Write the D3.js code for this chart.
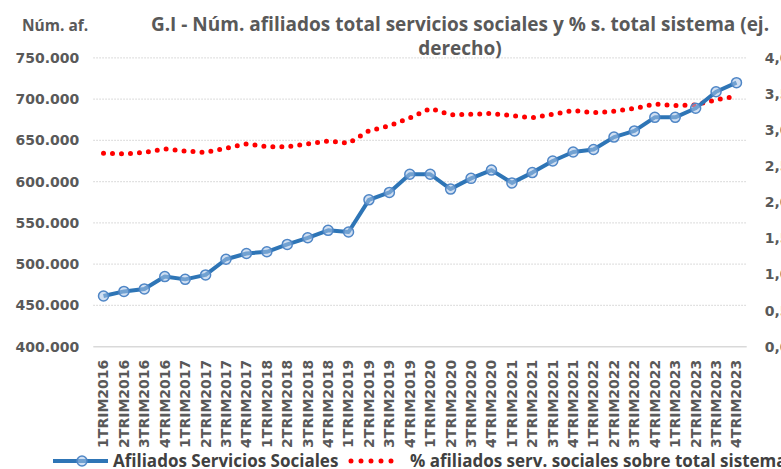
<!DOCTYPE html>
<html><head><meta charset="utf-8">
<script src="https://cdn.jsdelivr.net/npm/d3@7"></script>
<style>body{margin:0;background:#fff}svg{display:block}</style>
</head><body>
<script>
const categories = ["1TRIM2016","2TRIM2016","3TRIM2016","4TRIM2016","1TRIM2017","2TRIM2017","3TRIM2017","4TRIM2017","1TRIM2018","2TRIM2018","3TRIM2018","4TRIM2018","1TRIM2019","2TRIM2019","3TRIM2019","4TRIM2019","1TRIM2020","2TRIM2020","3TRIM2020","4TRIM2020","1TRIM2021","2TRIM2021","3TRIM2021","4TRIM2021","1TRIM2022","2TRIM2022","3TRIM2022","4TRIM2022","1TRIM2023","2TRIM2023","3TRIM2023","4TRIM2023"];
const afiliados = [461400,467000,470000,485000,481600,487000,506000,513000,515000,524000,532000,541000,539000,578000,587000,609000,609000,591000,604000,614000,598500,611000,625000,636000,639000,654000,661500,678000,678000,689000,709000,720000];
const porcentaje = [2.68,2.67,2.69,2.74,2.71,2.69,2.75,2.81,2.77,2.77,2.81,2.85,2.82,2.99,3.06,3.17,3.30,3.21,3.22,3.23,3.20,3.17,3.22,3.27,3.24,3.26,3.30,3.36,3.34,3.35,3.42,3.47];
const leftTicks = [400000,450000,500000,550000,600000,650000,700000,750000];
const rightTicks = [0,0.5,1,1.5,2,2.5,3,3.5,4];
const seriesNames = ["Afiliados Servicios Sociales","% afiliados serv. sociales sobre total sistema"];
const titleLines = ["G.I - Núm. afiliados total servicios sociales y % s. total sistema (ej.","derecho)"];
const leftAxisTitle = "Núm. af.";

const W=781,H=469;
const L=93.3,R=746.7,T=57.9,B=346.7;
const svg=d3.select("body").append("svg").attr("width",W).attr("height",H);
const x=d3.scaleBand().domain(categories).range([L,R]);
const yL=d3.scaleLinear().domain([400000,750000]).range([B,T]);
const yR=d3.scaleLinear().domain([0,4]).range([B,T]);
const cx=d=>x(d)+x.bandwidth()/2;
const axisFont="'DejaVu Sans', Verdana, sans-serif";
const narrow="'Liberation Sans Narrow','Open Sans',sans-serif";
const gray="#595959";

// gridlines
svg.append("g").selectAll("line").data(leftTicks.filter(v=>v>400000)).join("line")
 .attr("x1",L).attr("x2",R).attr("y1",d=>yL(d)).attr("y2",d=>yL(d))
 .attr("stroke","#d9d9d9").attr("stroke-width",1.3).attr("stroke-dasharray","1.5 1.5");
// baseline
svg.append("line").attr("x1",L).attr("x2",R).attr("y1",B).attr("y2",B).attr("stroke","#d9d9d9").attr("stroke-width",1.5);

// left axis
const fmtL=d3.formatLocale({decimal:",",thousands:".",grouping:[3],currency:["","€"]}).format(",.0f");
const gL=svg.append("g").attr("transform",`translate(${L-14},0)`)
 .call(d3.axisLeft(yL).tickValues(leftTicks).tickFormat(v=>fmtL(v)).tickSize(0).tickPadding(0));
gL.select(".domain").remove();
gL.selectAll("text").attr("font-family",axisFont).attr("font-weight","bold").attr("font-size","14px").attr("fill",gray);

// right axis
const fmtR=v=>v.toFixed(1).replace(".",",");
const gR=svg.append("g").attr("transform",`translate(${R+18},0)`)
 .call(d3.axisRight(yR).tickValues(rightTicks).tickFormat(fmtR).tickSize(0).tickPadding(0));
gR.select(".domain").remove();
gR.selectAll("text").attr("font-family",axisFont).attr("font-weight","bold").attr("font-size","14px").attr("fill",gray);

// x axis
const gX=svg.append("g").attr("transform",`translate(0,${B})`)
 .call(d3.axisBottom(x).tickSize(0).tickPadding(0));
gX.select(".domain").remove();
gX.selectAll("text").attr("font-family",axisFont).attr("font-weight","bold").attr("font-size","14px").attr("fill",gray)
 .attr("text-anchor","end").attr("dy","0.35em").attr("transform","translate(0,13) rotate(-90)").attr("x",0).attr("y",0);

// red dotted line
const lineR=d3.line().x((d,i)=>cx(categories[i])).y(d=>yR(d));
svg.append("path").datum(porcentaje).attr("d",lineR).attr("fill","none").attr("stroke","#ff0000")
 .attr("stroke-width",5).attr("stroke-linecap","round").attr("stroke-dasharray","0 9");

// blue line
const lineL=d3.line().x((d,i)=>cx(categories[i])).y(d=>yL(d));
svg.append("path").datum(afiliados).attr("d",lineL).attr("fill","none").attr("stroke","#2e75b6")
 .attr("stroke-width",4).attr("stroke-linejoin","round");
svg.append("g").selectAll("circle").data(afiliados).join("circle")
 .attr("cx",(d,i)=>cx(categories[i])).attr("cy",d=>yL(d)).attr("r",5)
 .attr("fill","#a9c5e8").attr("fill-opacity",0.55).attr("stroke","#4f86c6").attr("stroke-width",1.5);

// titles
svg.append("text").attr("x",22).attr("y",31).text(leftAxisTitle)
 .attr("font-family",narrow).attr("font-weight","bold").attr("font-size","15.5px").attr("fill",gray);
svg.selectAll("text.title").data(titleLines).join("text").attr("class","title")
 .attr("x",460).attr("y",(d,i)=>31+i*24).attr("text-anchor","middle").text(d=>d)
 .attr("font-family",narrow).attr("font-weight","bold").attr("font-size","19px").attr("fill",gray);

// legend
const ly=461;
svg.append("line").attr("x1",53).attr("x2",108).attr("y1",ly).attr("y2",ly).attr("stroke","#2e75b6").attr("stroke-width",4);
svg.append("circle").attr("cx",82).attr("cy",ly).attr("r",5).attr("fill","#a9c5e8").attr("fill-opacity",0.55).attr("stroke","#4f86c6").attr("stroke-width",1.5);
svg.append("text").attr("x",113).attr("y",ly+6).text(seriesNames[0])
 .attr("font-family",narrow).attr("font-weight","bold").attr("font-size","17px").attr("fill","#404040");
svg.append("line").attr("x1",351).attr("x2",401).attr("y1",ly).attr("y2",ly).attr("stroke","#ff0000")
 .attr("stroke-width",5).attr("stroke-linecap","round").attr("stroke-dasharray","0 10");
svg.append("text").attr("x",410).attr("y",ly+6).text(seriesNames[1])
 .attr("font-family",narrow).attr("font-weight","bold").attr("font-size","17px").attr("fill","#404040");
</script>
</body></html>
